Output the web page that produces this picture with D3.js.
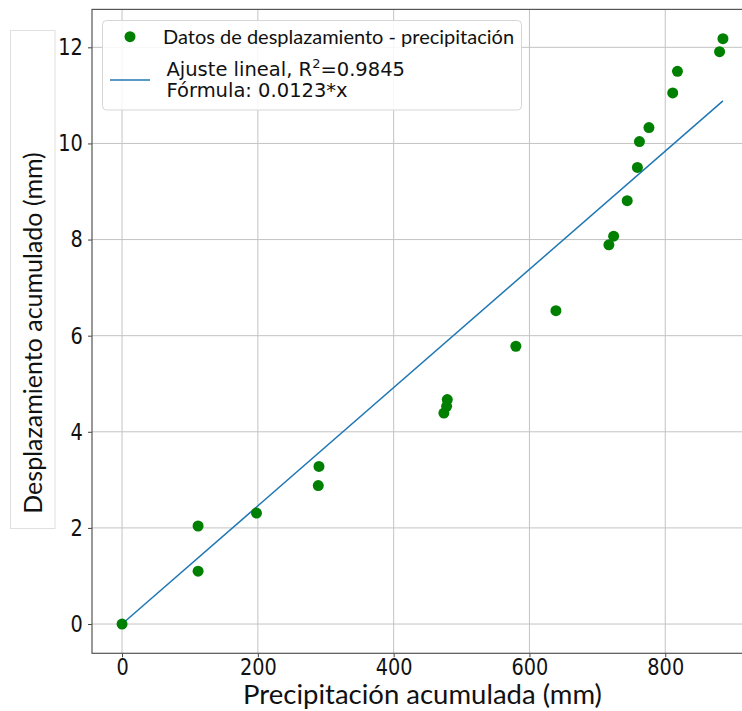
<!DOCTYPE html>
<html>
<head>
<meta charset="utf-8">
<script src="https://cdn.jsdelivr.net/npm/d3@7"></script>
<style>
  body { margin: 0; background: #fff; }
  svg { display: block; }
</style>
</head>
<body>
<div id="chart"></div>
<script>
'use strict';

// puntos medidos (precipitacion acumulada, desplazamiento acumulado)
const precip = [0, 112, 112, 198, 289, 290, 474, 478, 479, 580, 639,
    717, 724, 744, 759, 762, 776, 811, 818, 880, 885];
const displ = [0, 1.10, 2.04, 2.31, 2.88, 3.28, 4.39, 4.53, 4.67, 5.78, 6.52,
    7.89, 8.07, 8.81, 9.50, 10.04, 10.33, 11.05, 11.50, 11.91, 12.18];

// ajuste lineal y = slope * x
const slope = 0.0123;
const fitX = [0, 885];

const xTicks = [0, 200, 400, 600, 800];
const yTicks = [0, 2, 4, 6, 8, 10, 12];

const W = 742, H = 711;
const mLeft = 92, mRight = 753, mTop = 9.4, mBottom = 653.3;

function padded(vals) {
    var lo = d3.min(vals), hi = d3.max(vals);
    var m = (hi - lo) * 0.05;
    return [lo - m, hi + m];
}

var x = d3.scaleLinear().domain(padded(precip)).range([mLeft, mRight]);
var y = d3.scaleLinear().domain(padded(displ)).range([mBottom, mTop]);

var svg = d3.select('#chart').append('svg')
    .attr('width', W)
    .attr('height', H);

// caja del titulo del eje y
svg.append('rect')
    .attr('x', 10.5).attr('y', 30.5)
    .attr('width', 44.5).attr('height', 498)
    .attr('fill', '#fff')
    .attr('stroke', '#e0e0e0');

// grid
var grid = svg.append('g').attr('stroke', '#b0b0b0').attr('stroke-width', 1).attr('opacity', 0.75);
xTicks.forEach(function(t) {
    grid.append('line')
        .attr('x1', x(t)).attr('x2', x(t))
        .attr('y1', mTop).attr('y2', mBottom);
});
yTicks.forEach(function(t) {
    grid.append('line')
        .attr('x1', mLeft).attr('x2', mRight)
        .attr('y1', y(t)).attr('y2', y(t));
});

// ejes (las etiquetas de la imagen original estan algo estiradas en vertical)
var xAxis = d3.axisBottom(x).tickValues(xTicks).tickSize(4).tickPadding(1);
var yAxis = d3.axisLeft(y).tickValues(yTicks).tickSize(4).tickPadding(7);

var gx = svg.append('g').attr('transform', 'translate(0,' + mBottom + ')').call(xAxis);
var gy = svg.append('g').attr('transform', 'translate(' + mLeft + ',0)').call(yAxis);
[gx, gy].forEach(function(g) {
    g.select('.domain').remove();
    g.selectAll('line').attr('stroke', '#444');
    g.selectAll('text')
        .attr('fill', '#111')
        .attr('transform', 'scale(0.84,1)')
        .style('font-family', 'DejaVu Sans')
        .style('font-size', '23px');
});

// marco
svg.append('rect')
    .attr('x', mLeft).attr('y', mTop)
    .attr('width', mRight - mLeft).attr('height', mBottom - mTop)
    .attr('fill', 'none')
    .attr('stroke', '#555')
    .attr('stroke-width', 1.2);

// linea de ajuste
svg.append('path')
    .datum(fitX)
    .attr('fill', 'none')
    .attr('stroke', '#1f77b4')
    .attr('stroke-width', 1.5)
    .attr('d', d3.line()
        .x(function(d) { return x(d); })
        .y(function(d) { return y(slope * d); }));

// puntos
svg.append('g').selectAll('circle')
    .data(d3.zip(precip, displ))
    .join('circle')
    .attr('cx', function(d) { return x(d[0]); })
    .attr('cy', function(d) { return y(d[1]); })
    .attr('r', 5.5)
    .attr('fill', 'green');

// titulos de ejes
svg.append('text')
    .attr('x', (mLeft + mRight) / 2)
    .attr('y', 704)
    .attr('text-anchor', 'middle')
    .style('font-family', 'Lato')
    .style('font-size', '27.5px')
    .attr('fill', '#111')
    .text('Precipitación acumulada (mm)');

svg.append('text')
    .attr('transform', 'translate(42,333) rotate(-90)')
    .attr('text-anchor', 'middle')
    .style('font-family', 'Lato')
    .style('font-size', '25px')
    .attr('fill', '#111')
    .text('Desplazamiento acumulado (mm)');

// leyenda
var leg = svg.append('g');
leg.append('rect')
    .attr('x', 102.5).attr('y', 20.5)
    .attr('width', 419).attr('height', 89.5)
    .attr('rx', 4)
    .attr('fill', '#fff')
    .attr('fill-opacity', 0.85)
    .attr('stroke', '#d6d6d6');
leg.append('circle')
    .attr('cx', 130).attr('cy', 36.7)
    .attr('r', 5.5)
    .attr('fill', 'green');
leg.append('text')
    .attr('x', 163).attr('y', 44)
    .style('font-family', 'Lato')
    .style('font-size', '20px')
    .attr('fill', '#111')
    .text('Datos de desplazamiento - precipitación');
leg.append('line')
    .attr('x1', 110).attr('x2', 150)
    .attr('y1', 80).attr('y2', 80)
    .attr('stroke', '#1f77b4')
    .attr('stroke-width', 1.5);

var t2 = leg.append('text')
    .attr('x', 166.5).attr('y', 76)
    .style('font-family', 'DejaVu Sans')
    .style('font-size', '19.5px')
    .attr('fill', '#111');
t2.append('tspan').text('Ajuste lineal, R');
t2.append('tspan').attr('dy', -8).style('font-size', '13px').text('2');
t2.append('tspan').attr('dy', 8).text('=0.9845');

leg.append('text')
    .attr('x', 166.5).attr('y', 96.7)
    .style('font-family', 'DejaVu Sans')
    .style('font-size', '19.5px')
    .attr('fill', '#111')
    .text('Fórmula: 0.0123*x');
</script>
</body>
</html>
